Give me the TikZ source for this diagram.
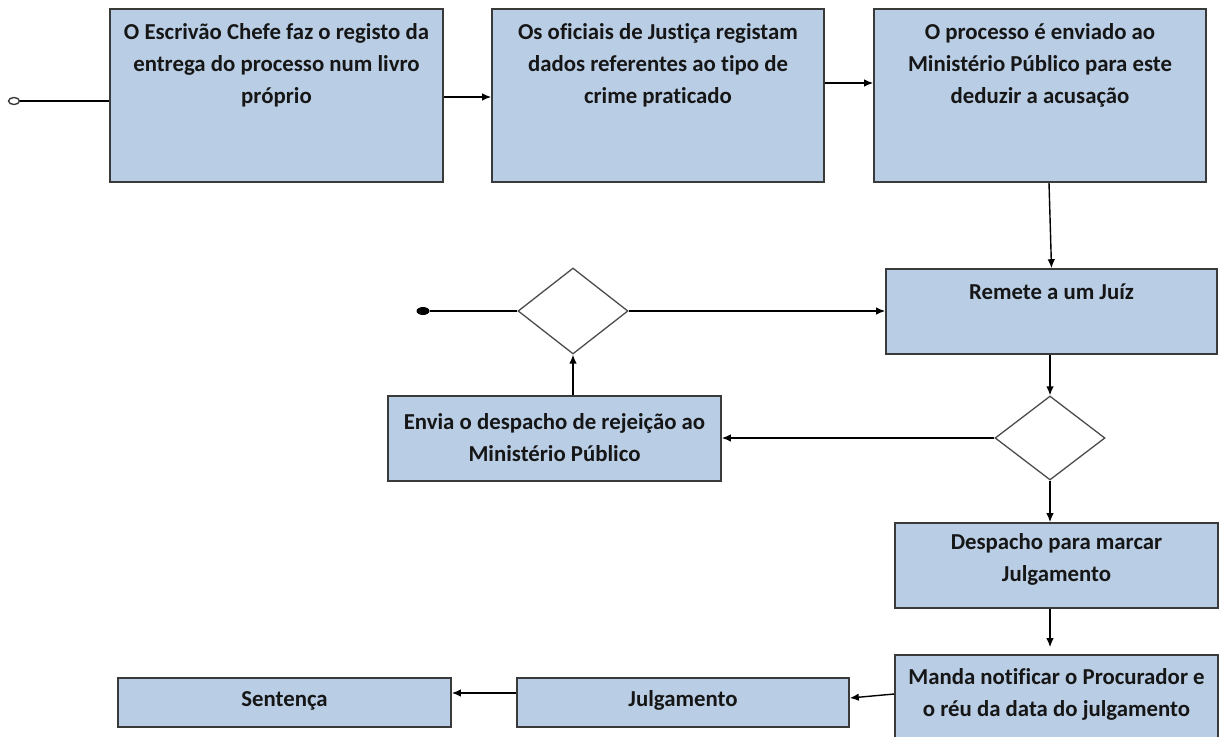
\documentclass[tikz,border=0pt]{standalone}
\usepackage{fontspec}
\setmainfont{Carlito}[Ligatures=NoCommon]
\usetikzlibrary{arrows.meta,shapes.geometric,calc}
\definecolor{boxfill}{HTML}{B9CDE5}
\definecolor{boxline}{HTML}{3A3A3A}
\definecolor{inktext}{HTML}{161616}
\tikzset{
  stepbox/.style={draw=boxline, line width=1.6pt, fill=boxfill, inner sep=0pt},
  boxtext/.style={align=center, text=inktext, inner sep=0pt,
    font=\fontsize{22.8}{32}\selectfont\bfseries},
  gate/.style={diamond, draw=black!70, line width=1.3pt, fill=white, inner sep=0pt},
  flow/.style={draw=black, line width=1.4pt, -{Latex[length=9pt,width=7.5pt]}},
  plain/.style={draw=black, line width=1.4pt},
}
\begin{document}
\begin{tikzpicture}[x=1pt, y=-1pt]
\useasboundingbox (0,0) rectangle (1220,736);
\clip (0,0) rectangle (1220,736);

% top row of process steps
\node[stepbox, minimum width=333pt, minimum height=173pt] (b1) at (276.5,95.5) {};
\node[stepbox, minimum width=332pt, minimum height=173pt] (b2) at (658,95.5) {};
\node[stepbox, minimum width=332pt, minimum height=173pt] (b3) at (1040,95.5) {};
\node[boxtext] (t1) at (276.5,65) {O Escrivão Chefe faz o registo da\\entrega do processo num livro\\próprio};
\node[boxtext] (t2) at (658,65) {Os oficiais de Justiça registam\\dados referentes ao tipo de\\crime praticado};
\node[boxtext] (t3) at (1040,65) {O processo é enviado ao\\Ministério Público para este\\deduzir a acusação};

% judge and decision
\node[stepbox, minimum width=331pt, minimum height=85pt] (remete) at (1051.5,311.5) {};
\node[boxtext] (tr) at (1051.5,292) {Remete a um Juíz};
\node[gate, minimum width=110pt, minimum height=86pt] (d1) at (573,311) {};
\node[gate, minimum width=110pt, minimum height=84pt] (d2) at (1050,438) {};
\node[stepbox, minimum width=333pt, minimum height=85pt] (envia) at (554.5,438.5) {};
\node[boxtext] (te) at (554.5,437.5) {Envia o despacho de rejeição ao\\Ministério Público};

% trial path
\node[stepbox, minimum width=323pt, minimum height=85pt] (desp) at (1056.5,565.5) {};
\node[boxtext] (td) at (1056.5,559) {Despacho para marcar\\Julgamento};
\node[stepbox, minimum width=323pt, minimum height=100pt] (manda) at (1056.5,705) {};
\node[boxtext] (tm) at (1056.5,694.5) {Manda notificar o Procurador e\\o réu da data do julgamento};
\node[stepbox, minimum width=332pt, minimum height=49pt] (julg) at (683,702.5) {};
\node[boxtext] (tj) at (683,700) {Julgamento};
\node[stepbox, minimum width=333pt, minimum height=49pt] (sent) at (284.5,702.5) {};
\node[boxtext] (ts) at (284.5,701) {Sentença};

% start and end markers
\node[ellipse, draw=black!80, line width=1.3pt, fill=white, minimum width=11pt, minimum height=7pt, inner sep=0pt] (start) at (14,101) {};
\node[ellipse, fill=black, minimum width=13pt, minimum height=8pt, inner sep=0pt] (stop) at (423,311) {};

% connectors
\draw[plain] (start) -- (start -| b1.west);
\draw[flow] (b1.east |- 0,97) -- (b2.west |- 0,97);
\draw[flow] (b2.east |- 0,83) -- (b3.west |- 0,83);
\draw[flow] ($(b3.south)+(9,0)$) -- (remete.north);
\draw[plain] (stop) -- (d1.west);
\draw[flow] (d1.east) -- (d1.east -| remete.west);
\draw[flow] (remete.south -| d2.north) -- (d2.north);
\draw[flow] (d2.west) -- (d2.west -| envia.east);
\draw[flow] (d1.south |- envia.north) -- (d1.south);
\draw[flow] (d2.south) -- (d2.south |- desp.north);
\draw[flow, shorten >=7pt] (desp.south -| d2.south) -- (d2.south |- manda.north);
\draw[flow] (manda.west |- 0,694) -- (julg.east |- 0,698);
\draw[flow] (julg.west |- 0,693) -- (sent.east |- 0,693);
\end{tikzpicture}
\end{document}
